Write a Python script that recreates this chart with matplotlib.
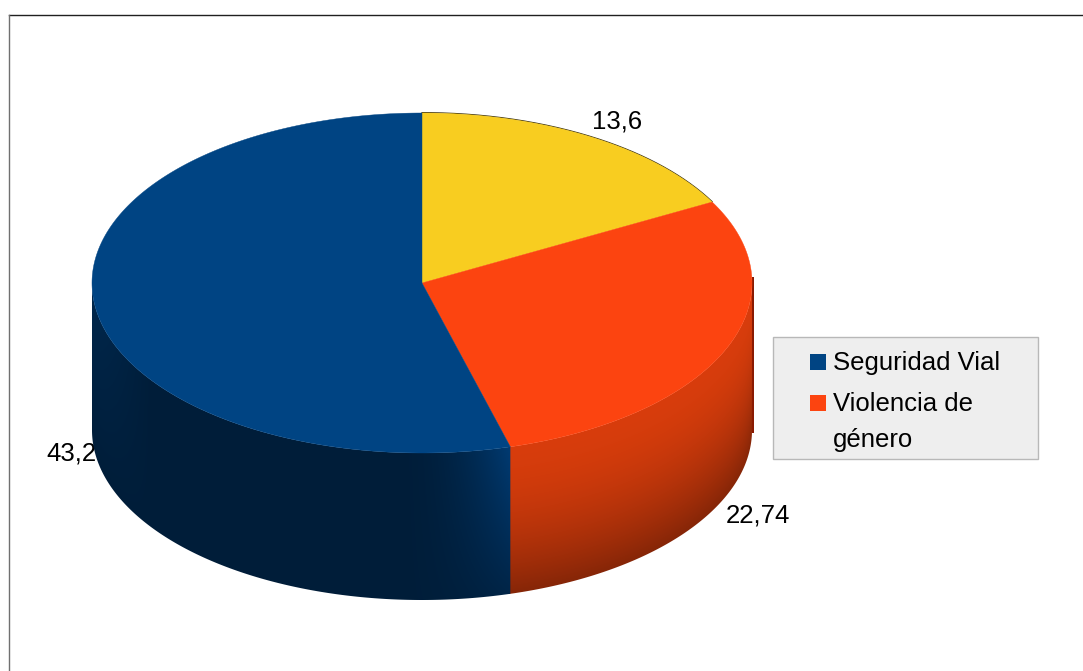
import numpy as np
import matplotlib
matplotlib.use("Agg")
import matplotlib.pyplot as plt
from matplotlib.patches import Polygon, Rectangle
from matplotlib.lines import Line2D

plt.rcParams["font.family"] = ["Liberation Sans", "DejaVu Sans"]

# Pie data, clockwise from twelve o'clock
slice_values = [13.6, 22.74, 43.2]
slice_labels = ["13,6", "22,74", "43,2"]
slice_colors = ["#f8cd20", "#fc4410", "#004483"]
legend_names = ["Seguridad Vial", "Violencia de\ngénero"]
legend_colors = ["#004483", "#fc4410"]

W, H = 1083, 671
CX, CY, RX, RY, DEPTH = 422.0, 283.0, 330.0, 170.0, 147.0
FONT = 18.5

fig = plt.figure(figsize=(W / 100, H / 100), dpi=100)
ax = fig.add_axes([0, 0, 1, 1])
ax.set_xlim(0, W)
ax.set_ylim(H, 0)
ax.axis("off")


def rim(a_start, a_end, n=240):
    """Points on the top ellipse; angles in degrees, screen y pointing down."""
    a = np.radians(np.linspace(a_start, a_end, n))
    return CX + RX * np.cos(a), CY - RY * np.sin(a)


# Slice boundaries in degrees, counter-clockwise from three o'clock
fractions = np.array(slice_values) / sum(slice_values)
edges = 90 - 360 * np.concatenate([[0], np.cumsum(fractions)])
yellow_a = (edges[0], edges[1])
orange_a = (edges[1], edges[2])
blue_a = (edges[2], edges[3])


def wall_shading(kind):
    X, Y = np.meshgrid(np.arange(W) + 0.5, np.arange(H) + 0.5)
    u = np.clip((X - CX) / RX, -1, 1)
    t = np.clip((Y - (CY + RY * np.sqrt(1 - u ** 2))) / DEPTH, 0, 1)
    if kind == "blue":
        seam = np.clip((X - 400) / 110, 0, 1) ** 2
        left = np.clip((150 - X) / 60, 0, 1) * (1 - t)
        f = 0.43 + 0.42 * seam * (1 - 0.75 * t) + 0.14 * left
        base = np.array([0, 69, 134])
    else:
        f = 0.87 - 0.33 * t ** 1.7
        base = np.array([248, 70, 14])
    return np.clip(f[..., None] * base, 0, 255) / 255


def draw_wall(a_start, a_end, kind):
    x, y = rim(a_start, a_end)
    pts = np.column_stack([np.r_[x, x[::-1]], np.r_[y, y[::-1] + DEPTH]])
    patch = Polygon(pts, closed=True, fc="none", ec="none", transform=ax.transData)
    ax.add_patch(patch)
    im = ax.imshow(wall_shading(kind), extent=(0, W, H, 0), aspect="auto",
                   interpolation="bilinear", zorder=3)
    im.set_clip_path(patch)


# Value label for the big slice sits behind the pie body
ax.text(46, 454, slice_labels[2], fontsize=FONT, ha="left", va="center",
        color="black", zorder=1)

# Side walls: only the part of each slice on the near half is visible.
# The orange wall is drawn first so the blue one overlaps the shared seam.
draw_wall(orange_a[1] - 0.3, 0, "orange")
draw_wall(-180, blue_a[0], "blue")

# Thin dark sliver along the right flank
ax.add_patch(Rectangle((CX + RX - 0.5, CY - 6), 2.5, DEPTH + 9, fc="#8a1a02",
                       ec="none", zorder=2.5))

# Dark hairline showing behind the far rim of the yellow slice
xb, yb = rim(yellow_a[1], yellow_a[0])
ax.plot(xb, yb - 0.4, color="#3a3010", lw=0.8, zorder=3.5)

# Top faces
for (a0, a1), col in zip([yellow_a, orange_a, blue_a], slice_colors):
    x, y = rim(a0, a1)
    pts = np.column_stack([np.r_[CX, x], np.r_[CY, y]])
    ax.add_patch(Polygon(pts, closed=True, fc=col, ec=col, lw=0.3, zorder=4))

# Remaining value labels
ax.text(617, 122, slice_labels[0], fontsize=FONT, ha="center", va="center", zorder=5)
ax.text(758, 515, slice_labels[1], fontsize=FONT, ha="center", va="center", zorder=5)

# Legend box
ax.add_patch(Rectangle((772.5, 336.5), 265.5, 122.5, fc="#eeeeee", ec="#b8b8b8",
                       lw=1.0, zorder=5))
for name, col, sy, ty in zip(legend_names, legend_colors, [353.5, 394.5], [363, 404]):
    ax.add_patch(Rectangle((810, sy), 16, 16, fc=col, ec="none", zorder=6))
    first, *rest = name.split("\n")
    ax.text(833, ty, first, fontsize=FONT, ha="left", va="center", zorder=6)
    for i, line in enumerate(rest, 1):
        ax.text(833, ty + 36 * i, line, fontsize=FONT, ha="left", va="center", zorder=6)

# Outer frame: top and left edges only
ax.add_line(Line2D([9, W], [15, 15], color="#202020", lw=1.0, zorder=7))
ax.add_line(Line2D([9, 9], [15, H], color="#707070", lw=1.0, zorder=7))

fig.savefig("out.png", dpi=100, facecolor="white")
